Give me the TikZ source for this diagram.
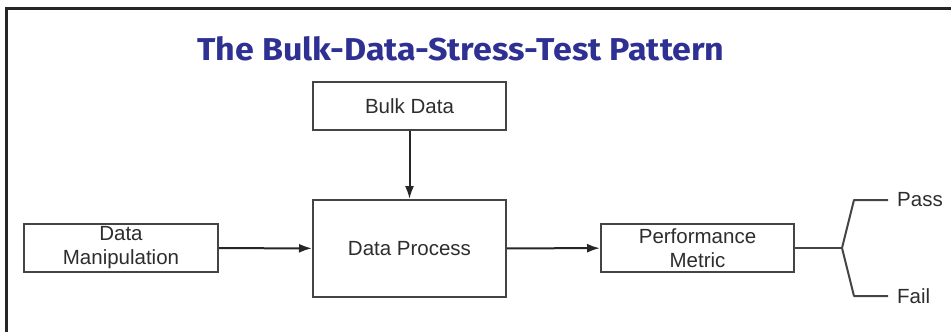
\documentclass[tikz,border=0pt]{standalone}
\usepackage{fontspec}
\setmainfont{Liberation Sans}
\newfontfamily\titlefont{Fira Sans}
\usetikzlibrary{arrows.meta}
\definecolor{titleblue}{RGB}{46,49,146}
\definecolor{boxline}{RGB}{68,68,68}
\definecolor{labeltext}{RGB}{45,45,45}
\tikzset{
  stepbox/.style={draw=boxline, line width=2pt, fill=white, inner sep=0pt,
    minimum width=193pt, text=labeltext, font=\fontsize{20.5}{24}\selectfont,
    align=center},
  flow/.style={draw=black!85, line width=2pt, -{Latex[length=13pt,width=9pt]}},
  branch/.style={draw=boxline, line width=2pt},
  outcome/.style={anchor=west, text=labeltext, inner sep=0pt,
    font=\fontsize{20.5}{24}\selectfont}
}
\begin{document}
\begin{tikzpicture}[x=1pt,y=-1pt]
  \useasboundingbox (0,0) rectangle (951,332);
  % page frame (top and left edges)
  \draw[line width=3pt, color=black!85] (6,332) -- (6,8) -- (951,8);
  % heading
  \node[inner sep=0pt, anchor=base, text=titleblue] (title) at (461,60)
    {\resizebox{527pt}{24pt}{\titlefont\bfseries The Bulk-Data-Stress-Test Pattern}};
  % blocks
  \node[stepbox, minimum height=48pt] (bulk) at (409.5,106) {Bulk Data};
  \node[stepbox, minimum height=97pt] (proc) at (409.5,248.5) {Data Process};
  \node[stepbox, minimum width=194pt, minimum height=48pt] (manip) at (121,248)
    {Data\\Manipulation};
  \node[stepbox, minimum height=48pt] (perf) at (697.5,248) {Performance\\Metric};
  % flow arrows
  \draw[flow] (bulk) -- (proc);
  \draw[flow] (manip) -- (proc);
  \draw[flow] (proc) -- (perf);
  % pass / fail branch
  \coordinate (fork) at (842,248);
  \coordinate (passbend) at (854,200);
  \coordinate (failbend) at (854,296);
  \coordinate (passend) at (888,200);
  \coordinate (failend) at (888,296);
  \draw[branch] (perf.east) -- (fork);
  \draw[branch, line join=round] (passend) -- (passbend) -- (fork) -- (failbend) -- (failend);
  \node[outcome] (pass) at (897,200) {Pass};
  \node[outcome] (fail) at (897,296) {Fail};
\end{tikzpicture}
\end{document}
